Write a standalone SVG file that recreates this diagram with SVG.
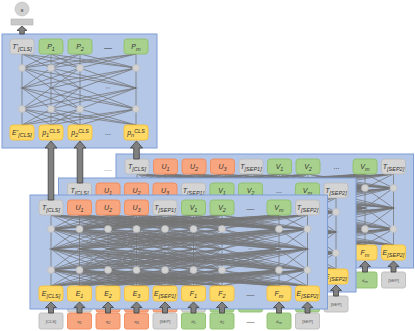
<svg xmlns="http://www.w3.org/2000/svg" width="415" height="331" viewBox="0 0 415 331">
<style>
.pn{fill:#b4c7e7;stroke:#7f9ed5;stroke-width:1}
.bx{stroke-width:0.9}
.g{fill:#d4d4d4;stroke:#bcbcbc}
.o{fill:#f7a67f;stroke:#f08a5b}
.v{fill:#a9d18e;stroke:#8dc06c}
.y{fill:#ffd966;stroke:#f7c139}
.ln{fill:none;stroke:#747474;stroke-width:0.75;stroke-linejoin:round;vector-effect:non-scaling-stroke}
.c{fill:#d2d2d2;stroke:#b9b9b9;stroke-width:0.6}
.dt{fill:none;stroke:#555;stroke-width:0.7;stroke-dasharray:0.7 0.8}
.ar{fill:#808080;stroke:#404040;stroke-width:0.8;stroke-linejoin:round}
text{font-family:"Liberation Sans",Arial,sans-serif;fill:#333;text-anchor:middle}
.l{font-size:7px;font-style:italic}
.s{font-size:5.5px}
.i{font-size:4.2px;fill:#555}
.el{font-size:8px;fill:#555}
</style>
<defs>
<path id="k9" class="ln" d="M21 1 21 0 49.5 1M78 1 21 0 106.5 1M135 1 21 0 163.5 1M192 1 21 0 249 1M21 0 277.5 1M21 1 49.5 0 49.5 1M78 1 49.5 0 106.5 1M135 1 49.5 0 163.5 1M192 1 49.5 0 249 1M49.5 0 277.5 1M21 1 78 0 49.5 1M78 1 78 0 106.5 1M135 1 78 0 163.5 1M192 1 78 0 249 1M78 0 277.5 1M21 1 106.5 0 49.5 1M78 1 106.5 0 106.5 1M135 1 106.5 0 163.5 1M192 1 106.5 0 249 1M106.5 0 277.5 1M21 1 135 0 49.5 1M78 1 135 0 106.5 1M135 1 135 0 163.5 1M192 1 135 0 249 1M135 0 277.5 1M21 1 163.5 0 49.5 1M78 1 163.5 0 106.5 1M135 1 163.5 0 163.5 1M192 1 163.5 0 249 1M163.5 0 277.5 1M21 1 192 0 49.5 1M78 1 192 0 106.5 1M135 1 192 0 163.5 1M192 1 192 0 249 1M192 0 277.5 1M21 1 249 0 49.5 1M78 1 249 0 106.5 1M135 1 249 0 163.5 1M192 1 249 0 249 1M249 0 277.5 1M21 1 277.5 0 49.5 1M78 1 277.5 0 106.5 1M135 1 277.5 0 163.5 1M192 1 277.5 0 249 1M277.5 0 277.5 1"/>
<path id="k4" class="ln" d="M22 1 22 0 51 1M80 1 22 0 136 1M22 1 51 0 51 1M80 1 51 0 136 1M22 1 80 0 51 1M80 1 80 0 136 1M22 1 136 0 51 1M80 1 136 0 136 1"/>
<g id="net9">
<use href="#k9" transform="translate(0,20) scale(1,14)"/>
<use href="#k9" transform="translate(0,34) scale(1,20)"/>
<use href="#k9" transform="translate(0,54) scale(1,21)"/>
<use href="#k9" transform="translate(0,75) scale(1,16)"/>
<g class="c">
<circle cx="21" cy="34" r="3.5"/><circle cx="49.5" cy="34" r="3.5"/><circle cx="78" cy="34" r="3.5"/><circle cx="106.5" cy="34" r="3.5"/><circle cx="135" cy="34" r="3.5"/><circle cx="163.5" cy="34" r="3.5"/><circle cx="192" cy="34" r="3.5"/><circle cx="249" cy="34" r="3.5"/><circle cx="277.5" cy="34" r="3.5"/>
<circle cx="21" cy="75" r="3.5"/><circle cx="49.5" cy="75" r="3.5"/><circle cx="78" cy="75" r="3.5"/><circle cx="106.5" cy="75" r="3.5"/><circle cx="135" cy="75" r="3.5"/><circle cx="163.5" cy="75" r="3.5"/><circle cx="192" cy="75" r="3.5"/><circle cx="249" cy="75" r="3.5"/><circle cx="277.5" cy="75" r="3.5"/>
</g>
<path class="dt" d="M19 54h4M47.5 54h4M76 54h4M104.5 54h4M133 54h4M161.5 54h4M190 54h4M218.5 54h4M247 54h4M275.5 54h4"/>
</g>
<path id="sa" class="ar" d="M0 0L5.5 5.5H2.5V11H-2.5V5.5H-5.5Z"/>
</defs>

<text class="el" x="108" y="172" style="fill:#bbb">—</text>

<g id="panel-back">
<rect class="pn" x="116" y="154" width="297.5" height="114"/>
<use href="#net9" transform="translate(116,154)"/>
<g id="b-tcls"><rect class="bx g" x="125" y="159" width="24" height="15" rx="3"/><text class="l" x="137" y="169">T<tspan class="s" dy="1.5">[CLS]</tspan></text></g>
<g id="b-u1"><rect class="bx o" x="153.5" y="159" width="24" height="15" rx="3"/><text class="l" x="165.5" y="169">U<tspan class="s" dy="1.5">1</tspan></text></g>
<g id="b-u2"><rect class="bx o" x="182" y="159" width="24" height="15" rx="3"/><text class="l" x="194" y="169">U<tspan class="s" dy="1.5">2</tspan></text></g>
<g id="b-u3"><rect class="bx o" x="210.5" y="159" width="24" height="15" rx="3"/><text class="l" x="222.5" y="169">U<tspan class="s" dy="1.5">3</tspan></text></g>
<g id="b-tsep1"><rect class="bx g" x="239" y="159" width="24" height="15" rx="3"/><text class="l" x="251" y="169">T<tspan class="s" dy="1.5">[SEP1]</tspan></text></g>
<g id="b-v1"><rect class="bx v" x="267.5" y="159" width="24" height="15" rx="3"/><text class="l" x="279.5" y="169">V<tspan class="s" dy="1.5">1</tspan></text></g>
<g id="b-v2"><rect class="bx v" x="296" y="159" width="24" height="15" rx="3"/><text class="l" x="308" y="169">V<tspan class="s" dy="1.5">2</tspan></text></g>
<text class="l" x="336.5" y="169" style="font-style:normal">...</text>
<g id="b-vm"><rect class="bx v" x="353" y="159" width="24" height="15" rx="3"/><text class="l" x="365" y="169">V<tspan class="s" dy="1.5">m</tspan></text></g>
<g id="b-tsep2"><rect class="bx g" x="381.5" y="159" width="24" height="15" rx="3"/><text class="l" x="393.5" y="169">T<tspan class="s" dy="1.5">[SEP2]</tspan></text></g>
<g id="b-fm"><rect class="bx y" x="353" y="245" width="24" height="15" rx="3"/><text class="l" x="365" y="255">F<tspan class="s" dy="1.5">m</tspan></text></g>
<g id="b-esep2"><rect class="bx y" x="381.5" y="245" width="24" height="15" rx="3"/><text class="l" x="393.5" y="255">E<tspan class="s" dy="1.5">[SEP2]</tspan></text></g>
<g id="b-in-dm"><rect class="bx v" x="353" y="272" width="24" height="16" rx="2"/><text class="i" x="365" y="281.5">d<tspan dy="1">m</tspan></text></g>
<g id="b-in-sep"><rect class="bx g" x="381.5" y="272" width="24" height="16" rx="2"/><text class="i" x="393.5" y="281.5">[SEP]</text></g>
</g>

<g id="panel-middle">
<rect class="pn" x="58.5" y="178" width="297.5" height="114"/>
<use href="#net9" transform="translate(58.5,178)"/>
<g id="m-tcls"><rect class="bx g" x="67.5" y="183" width="24" height="15" rx="3"/><text class="l" x="79.5" y="193">T<tspan class="s" dy="1.5">[CLS]</tspan></text></g>
<g id="m-u1"><rect class="bx o" x="96" y="183" width="24" height="15" rx="3"/><text class="l" x="108" y="193">U<tspan class="s" dy="1.5">1</tspan></text></g>
<g id="m-u2"><rect class="bx o" x="124.5" y="183" width="24" height="15" rx="3"/><text class="l" x="136.5" y="193">U<tspan class="s" dy="1.5">2</tspan></text></g>
<g id="m-u3"><rect class="bx o" x="153" y="183" width="24" height="15" rx="3"/><text class="l" x="165" y="193">U<tspan class="s" dy="1.5">3</tspan></text></g>
<g id="m-tsep1"><rect class="bx g" x="181.5" y="183" width="24" height="15" rx="3"/><text class="l" x="193.5" y="193">T<tspan class="s" dy="1.5">[SEP1]</tspan></text></g>
<g id="m-v1"><rect class="bx v" x="210" y="183" width="24" height="15" rx="3"/><text class="l" x="222" y="193">V<tspan class="s" dy="1.5">1</tspan></text></g>
<g id="m-v2"><rect class="bx v" x="238.5" y="183" width="24" height="15" rx="3"/><text class="l" x="250.5" y="193">V<tspan class="s" dy="1.5">2</tspan></text></g>
<text class="l" x="279" y="193" style="font-style:normal">...</text>
<g id="m-vm"><rect class="bx v" x="295.5" y="183" width="24" height="15" rx="3"/><text class="l" x="307.5" y="193">V<tspan class="s" dy="1.5">m</tspan></text></g>
<g id="m-tsep2"><rect class="bx g" x="324" y="183" width="24" height="15" rx="3"/><text class="l" x="336" y="193">T<tspan class="s" dy="1.5">[SEP2]</tspan></text></g>
<g id="m-esep2"><rect class="bx y" x="324" y="269" width="24" height="15" rx="3"/><text class="l" x="336" y="279">E<tspan class="s" dy="1.5">[SEP2]</tspan></text></g>
<g id="m-inputs">
<rect class="bx g" x="67.5" y="296" width="24" height="16" rx="2"/><rect class="bx o" x="96" y="296" width="24" height="16" rx="2"/><rect class="bx o" x="124.5" y="296" width="24" height="16" rx="2"/><rect class="bx o" x="153" y="296" width="24" height="16" rx="2"/><rect class="bx g" x="181.5" y="296" width="24" height="16" rx="2"/><rect class="bx v" x="210" y="296" width="24" height="16" rx="2"/><rect class="bx v" x="238.5" y="296" width="24" height="16" rx="2"/><rect class="bx v" x="295.5" y="296" width="24" height="16" rx="2"/>
</g>
<g id="m-in-sep"><rect class="bx g" x="324" y="296" width="24" height="16" rx="2"/><text class="i" x="336" y="305.5">[SEP]</text></g>
</g>

<g id="panel-front">
<rect class="pn" x="30" y="195" width="297.5" height="114"/>
<use href="#net9" transform="translate(30,195)"/>
<g id="f-tcls"><rect class="bx g" x="39" y="200" width="24" height="15" rx="3"/><text class="l" x="51" y="210">T<tspan class="s" dy="1.5">[CLS]</tspan></text></g>
<g id="f-u1"><rect class="bx o" x="67.5" y="200" width="24" height="15" rx="3"/><text class="l" x="79.5" y="210">U<tspan class="s" dy="1.5">1</tspan></text></g>
<g id="f-u2"><rect class="bx o" x="96" y="200" width="24" height="15" rx="3"/><text class="l" x="108" y="210">U<tspan class="s" dy="1.5">2</tspan></text></g>
<g id="f-u3"><rect class="bx o" x="124.5" y="200" width="24" height="15" rx="3"/><text class="l" x="136.5" y="210">U<tspan class="s" dy="1.5">3</tspan></text></g>
<g id="f-tsep1"><rect class="bx g" x="153" y="200" width="24" height="15" rx="3"/><text class="l" x="165" y="210">T<tspan class="s" dy="1.5">[SEP1]</tspan></text></g>
<g id="f-v1"><rect class="bx v" x="181.5" y="200" width="24" height="15" rx="3"/><text class="l" x="193.5" y="210">V<tspan class="s" dy="1.5">1</tspan></text></g>
<g id="f-v2"><rect class="bx v" x="210" y="200" width="24" height="15" rx="3"/><text class="l" x="222" y="210">V<tspan class="s" dy="1.5">2</tspan></text></g>
<text class="el" x="250.5" y="211">—</text>
<g id="f-vm"><rect class="bx v" x="267" y="200" width="24" height="15" rx="3"/><text class="l" x="279" y="210">V<tspan class="s" dy="1.5">m</tspan></text></g>
<g id="f-tsep2"><rect class="bx g" x="295.5" y="200" width="24" height="15" rx="3"/><text class="l" x="307.5" y="210">T<tspan class="s" dy="1.5">[SEP2]</tspan></text></g>

<g id="f-ecls"><rect class="bx y" x="39" y="286" width="24" height="15" rx="3"/><text class="l" x="51" y="296">E<tspan class="s" dy="1.5">[CLS]</tspan></text></g>
<g id="f-e1"><rect class="bx y" x="67.5" y="286" width="24" height="15" rx="3"/><text class="l" x="79.5" y="296">E<tspan class="s" dy="1.5">1</tspan></text></g>
<g id="f-e2"><rect class="bx y" x="96" y="286" width="24" height="15" rx="3"/><text class="l" x="108" y="296">E<tspan class="s" dy="1.5">2</tspan></text></g>
<g id="f-e3"><rect class="bx y" x="124.5" y="286" width="24" height="15" rx="3"/><text class="l" x="136.5" y="296">E<tspan class="s" dy="1.5">3</tspan></text></g>
<g id="f-esep1"><rect class="bx y" x="153" y="286" width="24" height="15" rx="3"/><text class="l" x="165" y="296">E<tspan class="s" dy="1.5">[SEP1]</tspan></text></g>
<g id="f-f1"><rect class="bx y" x="181.5" y="286" width="24" height="15" rx="3"/><text class="l" x="193.5" y="296">F<tspan class="s" dy="1.5">1</tspan></text></g>
<g id="f-f2"><rect class="bx y" x="210" y="286" width="24" height="15" rx="3"/><text class="l" x="222" y="296">F<tspan class="s" dy="1.5">2</tspan></text></g>
<text class="el" x="250.5" y="297">—</text>
<g id="f-fm"><rect class="bx y" x="267" y="286" width="24" height="15" rx="3"/><text class="l" x="279" y="296">F<tspan class="s" dy="1.5">m</tspan></text></g>
<g id="f-esep2"><rect class="bx y" x="295.5" y="286" width="24" height="15" rx="3"/><text class="l" x="307.5" y="296">E<tspan class="s" dy="1.5">[SEP2]</tspan></text></g>
</g>

<g id="inputs-front">
<g id="in-cls"><rect class="bx g" x="39" y="313" width="24" height="16" rx="2"/><text class="i" x="51" y="322.5">[CLS]</text></g>
<g id="in-q1"><rect class="bx o" x="67.5" y="313" width="24" height="16" rx="2"/><text class="i" x="79.5" y="322.5">q<tspan dy="1">1</tspan></text></g>
<g id="in-q2"><rect class="bx o" x="96" y="313" width="24" height="16" rx="2"/><text class="i" x="108" y="322.5">q<tspan dy="1">2</tspan></text></g>
<g id="in-q3"><rect class="bx o" x="124.5" y="313" width="24" height="16" rx="2"/><text class="i" x="136.5" y="322.5">q<tspan dy="1">3</tspan></text></g>
<g id="in-sep1"><rect class="bx g" x="153" y="313" width="24" height="16" rx="2"/><text class="i" x="165" y="322.5">[SEP]</text></g>
<g id="in-d1"><rect class="bx v" x="181.5" y="313" width="24" height="16" rx="2"/><text class="i" x="193.5" y="322.5">d<tspan dy="1">1</tspan></text></g>
<g id="in-d2"><rect class="bx v" x="210" y="313" width="24" height="16" rx="2"/><text class="i" x="222" y="322.5">d<tspan dy="1">2</tspan></text></g>
<text class="el" x="250.5" y="324">—</text>
<g id="in-dm"><rect class="bx v" x="267" y="313" width="24" height="16" rx="2"/><text class="i" x="279" y="322.5">d<tspan dy="1">m</tspan></text></g>
<g id="in-sep2"><rect class="bx g" x="295.5" y="313" width="24" height="16" rx="2"/><text class="i" x="307.5" y="322.5">[SEP]</text></g>
</g>

<g id="panel-top">
<rect class="pn" x="2" y="34" width="155" height="114"/>
<use href="#k4" transform="translate(0,54) scale(1,14)"/>
<use href="#k4" transform="translate(0,68) scale(1,20)"/>
<use href="#k4" transform="translate(0,88) scale(1,21)"/>
<use href="#k4" transform="translate(0,109) scale(1,16)"/>
<g class="c">
<circle cx="22" cy="68" r="3.5"/><circle cx="51" cy="68" r="3.5"/><circle cx="80" cy="68" r="3.5"/><circle cx="136" cy="68" r="3.5"/>
<circle cx="22" cy="109" r="3.5"/><circle cx="51" cy="109" r="3.5"/><circle cx="80" cy="109" r="3.5"/><circle cx="136" cy="109" r="3.5"/>
</g>
<path class="dt" d="M20 88h4M49 88h4M78 88h4M106 88h4M134 88h4"/>
<g id="t-tcls"><rect class="bx g" x="10" y="39" width="24" height="15" rx="3"/><text class="l" x="22" y="49">T'<tspan class="s" dy="1.5">[CLS]</tspan></text></g>
<g id="t-p1"><rect class="bx v" x="39" y="39" width="24" height="15" rx="3"/><text class="l" x="51" y="49">P<tspan class="s" dy="1.5">1</tspan></text></g>
<g id="t-p2"><rect class="bx v" x="68" y="39" width="24" height="15" rx="3"/><text class="l" x="80" y="49">P<tspan class="s" dy="1.5">2</tspan></text></g>
<text class="el" x="108" y="50" style="fill:#333">—</text>
<g id="t-pm"><rect class="bx v" x="124" y="39" width="24" height="15" rx="3"/><text class="l" x="136" y="49">P<tspan class="s" dy="1.5">m</tspan></text></g>
<g id="t-ecls"><rect class="bx y" x="10" y="125" width="24" height="15" rx="3"/><text class="l" x="22" y="135">E'<tspan class="s" dy="1.5">[CLS]</tspan></text></g>
<g id="t-p1cls"><rect class="bx y" x="39" y="125" width="24" height="15" rx="3"/><text class="l" x="51" y="135">p<tspan class="s" dy="1.5">1</tspan><tspan class="s" dy="-4">CLS</tspan></text></g>
<g id="t-p2cls"><rect class="bx y" x="68" y="125" width="24" height="15" rx="3"/><text class="l" x="80" y="135">p<tspan class="s" dy="1.5">2</tspan><tspan class="s" dy="-4">CLS</tspan></text></g>
<text class="l" x="108" y="135" style="font-style:normal">...</text>
<g id="t-pncls"><rect class="bx y" x="124" y="125" width="24" height="15" rx="3"/><text class="l" x="136" y="135">p<tspan class="s" dy="1.5">n</tspan><tspan class="s" dy="-4">CLS</tspan></text></g>
</g>

<g id="out-s">
<circle cx="22" cy="9" r="7" class="c"/><text class="l" x="22" y="11.5" style="font-size:6px">s</text>
<rect x="11" y="19" width="22" height="6" fill="#c9c9c9" stroke="#b3b3b3" stroke-width="0.6"/>
</g>

<g id="connectors">
<path class="ar" d="M22 26L27 30.5H24.3V34H19.7V30.5H17Z"/>
<path class="ar" d="M51 141L57 148H53.8V200H48.2V148H45Z"/>
<path class="ar" d="M80 141L86 148H82.8V183H77.2V148H74Z"/>
<path class="ar" d="M136.5 141L142.5 148H139.3V159H133.7V148H130.5Z"/>
<use href="#sa" x="51" y="302"/><use href="#sa" x="79.5" y="302"/><use href="#sa" x="108" y="302"/><use href="#sa" x="136.5" y="302"/><use href="#sa" x="165" y="302"/><use href="#sa" x="193.5" y="302"/><use href="#sa" x="222" y="302"/><use href="#sa" x="279" y="302"/><use href="#sa" x="307.5" y="302"/>
<use href="#sa" x="336" y="285"/>
<use href="#sa" x="365" y="261"/><use href="#sa" x="393.5" y="261"/>
</g>
</svg>
